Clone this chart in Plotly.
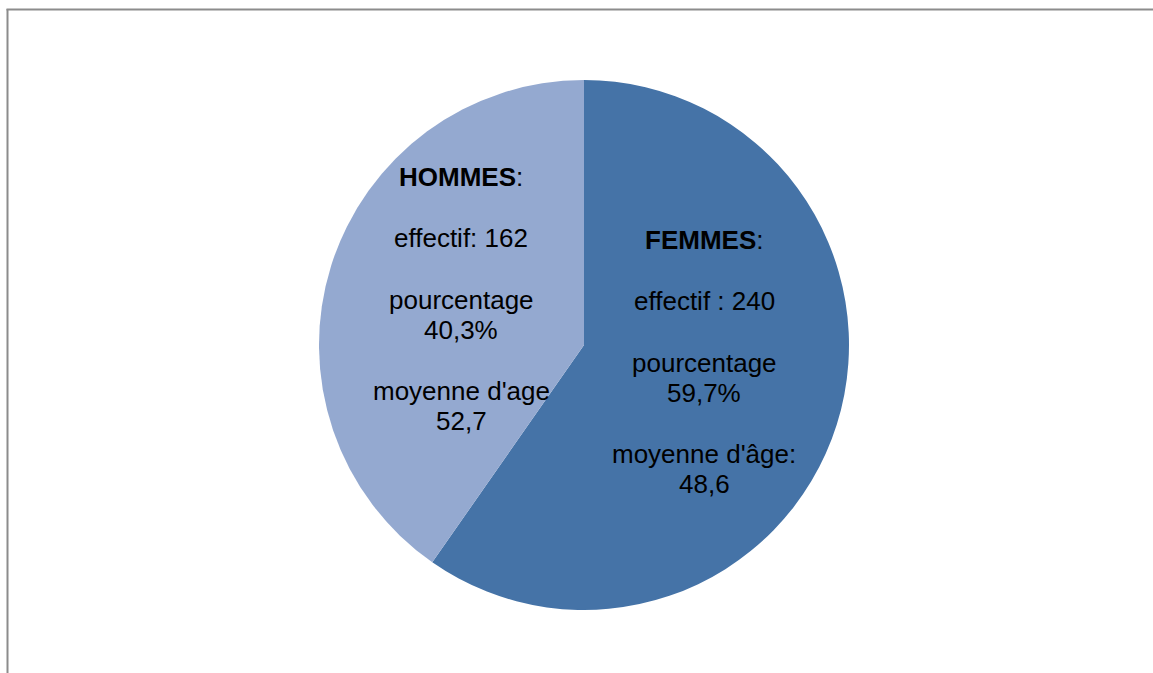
import plotly.graph_objects as go

W, H = 1153, 673

# ---- data ----
groups = ["FEMMES", "HOMMES"]
effectifs = [240, 162]
ages = [48.6, 52.7]
age_labels = ["moyenne d'âge:", "moyenne d'age"]
effectif_labels = ["effectif : ", "effectif: "]
colors = ["#4573A7", "#94A9D0"]

total = sum(effectifs)
pcts = [v / total * 100 for v in effectifs]

fig = go.Figure()

# pie geometry in pixels
cx, cy, r = 584, 345, 265
fig.add_trace(go.Pie(
    labels=groups,
    values=effectifs,
    sort=False,
    direction="clockwise",
    rotation=0,
    marker=dict(colors=colors, line=dict(width=0)),
    textinfo="none",
    hoverinfo="label+value+percent",
    showlegend=False,
    domain=dict(x=[(cx - r) / W, (cx + r) / W],
                y=[1 - (cy + r) / H, 1 - (cy - r) / H]),
))

# label blocks (layout positions in pixels)
block_pos = {"FEMMES": (704, 240), "HOMMES": (461, 177)}
offsets = [0, 61, 123, 153, 214, 244]

annotations = []
for g, eff, pct, age, alab, elab in zip(groups, effectifs, pcts, ages, age_labels, effectif_labels):
    lines = [
        f"<b>{g}</b>:",
        f"{elab}{eff}",
        "pourcentage",
        f"{pct:.1f}%".replace(".", ","),
        alab,
        f"{age:.1f}".replace(".", ","),
    ]
    bx, by = block_pos[g]
    for txt, off in zip(lines, offsets):
        annotations.append(dict(
            x=bx / W, y=1 - (by + off) / H, xref="paper", yref="paper",
            text=txt, showarrow=False, xanchor="center", yanchor="middle",
            font=dict(family="Liberation Sans, Arial, sans-serif", size=26, color="#000000"),
        ))

shapes = [
    dict(type="line", xref="paper", yref="paper",
         x0=7.5 / W, x1=7.5 / W, y0=0, y1=1 - 9 / H,
         line=dict(color="#8C8C8C", width=2)),
    dict(type="line", xref="paper", yref="paper",
         x0=6.5 / W, x1=1, y0=1 - 9.5 / H, y1=1 - 9.5 / H,
         line=dict(color="#8C8C8C", width=2)),
]

fig.update_layout(
    width=W, height=H,
    margin=dict(l=0, r=0, t=0, b=0),
    paper_bgcolor="white",
    plot_bgcolor="white",
    annotations=annotations,
    shapes=shapes,
)

fig.write_html(
    "out.html",
    config={"displayModeBar": False},
    post_script="document.body.style.margin='0';document.body.style.overflow='hidden';",
)
